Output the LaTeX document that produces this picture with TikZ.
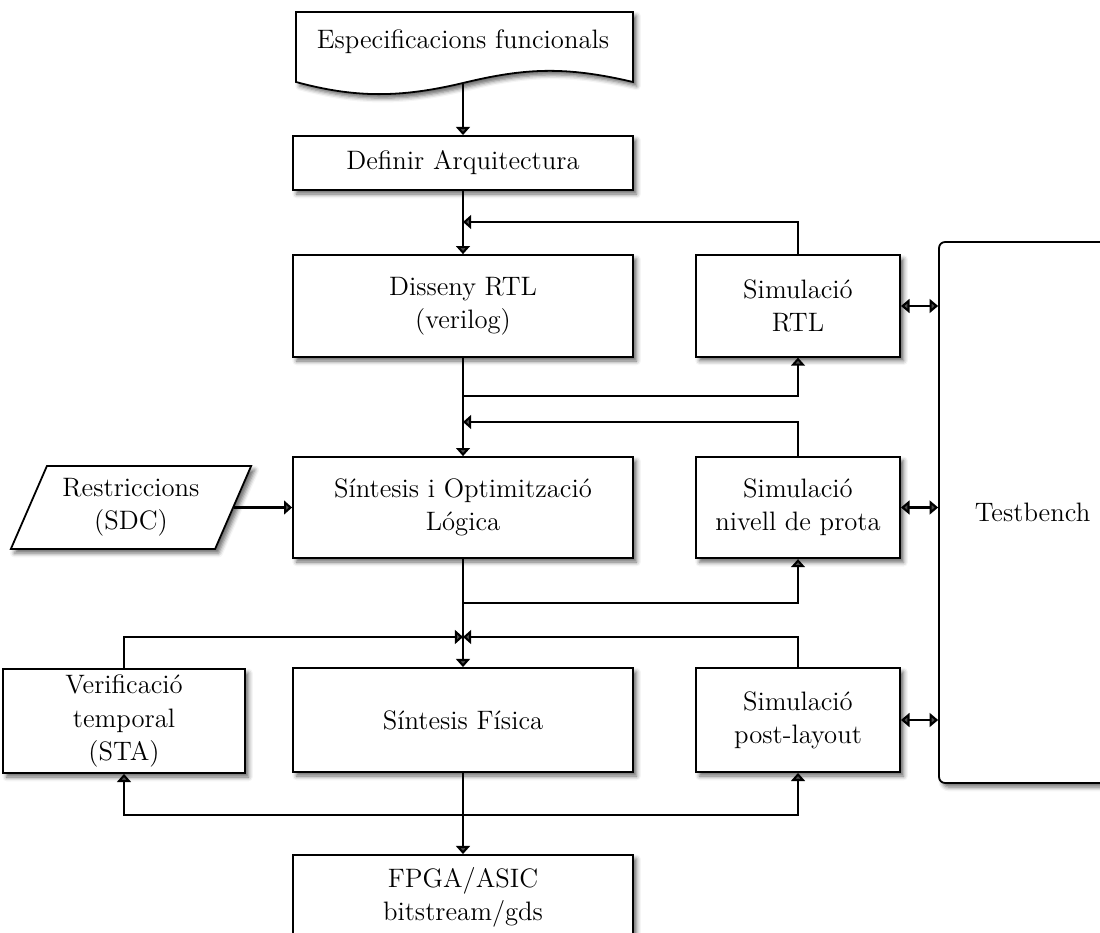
\documentclass[tikz,border=0pt]{standalone}
\usetikzlibrary{arrows.meta,shapes.geometric,shadows.blur}
\begin{document}
\begin{tikzpicture}[x=0.42pt,y=-0.42pt,
  font=\fontsize{11.2}{13.9}\selectfont,
  shad/.style={blur shadow={shadow xshift=1.5pt,shadow yshift=-1.7pt,shadow blur radius=1.8pt,shadow opacity=60}},
  box/.style={draw,line width=0.75pt,fill=white,align=center,inner sep=2pt,shad},
  wide/.style={box,minimum width=142.8pt},
  sim/.style={box,minimum width=85.7pt,minimum height=42.6pt},
  arr/.style={line width=1.1pt,-{Triangle[width=5.8pt,length=3.4pt]}},
  darr/.style={line width=1.1pt,{Triangle[width=5.8pt,length=3.6pt]}-{Triangle[width=5.8pt,length=3.6pt]}}]
\useasboundingbox (0,0) rectangle (1100,933);
\clip (0,0) rectangle (1100,933);

% input document with wavy lower edge
\path[draw,line width=0.75pt,fill=white,shad]
  (296,12) -- (633,12) -- (633,82)
  .. controls (565,66) and (525,68) .. (463,83)
  .. controls (400,98) and (355,98) .. (296,82) -- cycle;
\node (doc) at (463,42) {Especificacions funcionals};
\coordinate (docb) at (463,84);

% main flow
\node[wide,minimum height=22.7pt] (def) at (463,163) {Definir Arquitectura};
\node[wide,minimum height=42.8pt] (rtl) at (463,306) {Disseny RTL\\(verilog)};
\node[wide,minimum height=42.4pt] (syn) at (463,507.5) {S\'intesis i Optimitzaci\'o\\L\'ogica};
\node[wide,minimum height=43.7pt] (phys) at (463,720) {S\'intesis F\'isica};
\node[wide,minimum height=35.3pt] (fpga) at (463,897) {FPGA/ASIC\\bitstream/gds};

% simulation column
\node[sim] (simrtl) at (798,306) {Simulaci\'o\\RTL};
\node[sim] (simgate) at (798,507.5) {Simulaci\'o\\nivell de prota};
\node[sim,minimum height=43.7pt] (simpost) at (798,720) {Simulaci\'o\\post-layout};

% timing verification
\node[box,minimum width=101.6pt,minimum height=43.7pt] (sta) at (124,721) {Verificaci\'o\\temporal\\(STA)};

% constraints
\node[box,trapezium,trapezium left angle=65,trapezium right angle=115,
  trapezium stretches=true,minimum width=101.6pt,minimum height=34.9pt] (restr) at (131,507.5) {Restriccions\\(SDC)};

% testbench
\node[draw,line width=0.75pt,fill=white,rounded corners=2.5pt,shad,
  minimum width=78.5pt,minimum height=227.2pt] (tb) at (1032.5,512.5) {Testbench};

% junction points
\coordinate (j1) at (463,222);
\coordinate (b1) at (463,396);
\coordinate (j2) at (463,422);
\coordinate (b2) at (463,603);
\coordinate (j3) at (463,637);
\coordinate (b3) at (463,815);

% connectors
\draw[arr] (docb) -- (def.north);
\draw[arr] (def.south) -- (rtl.north);
\draw[arr] (simrtl.north) |- (j1);
\draw[arr] (rtl.south) -- (syn.north);
\draw[arr] (b1) -| (simrtl.south);
\draw[arr] (simgate.north) |- (j2);
\draw[arr] (restr.east) -- (syn.west);
\draw[arr] (syn.south) -- (phys.north);
\draw[arr] (b2) -| (simgate.south);
\draw[arr] (simpost.north) |- (j3);
\draw[arr] (sta.north) |- (j3);
\draw[arr] (phys.south) -- (fpga.north);
\draw[arr] (b3) -| (simpost.south);
\draw[arr] (b3) -| (sta.south);
\draw[darr] (simrtl.east) -- (simrtl.east -| tb.west);
\draw[darr] (simgate.east) -- (simgate.east -| tb.west);
\draw[darr] (simpost.east) -- (simpost.east -| tb.west);
\end{tikzpicture}
\end{document}
